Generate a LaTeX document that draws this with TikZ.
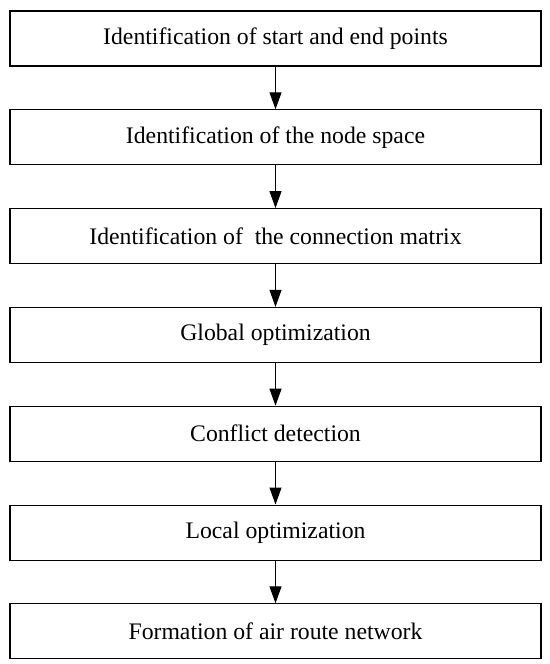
\documentclass[tikz,border=0pt]{standalone}
\usepackage{fontspec}
\setmainfont{Liberation Serif}
\usetikzlibrary{arrows.meta, positioning}

\tikzset{
    procbox/.style={draw, line width=0.6pt, minimum width=10.62cm, minimum height=1.1cm,
        inner sep=0pt, font=\fontsize{13.5}{16}\selectfont},
    flow/.style={line width=0.6pt, -{Triangle[length=0.34cm, width=0.24cm]}}
}

\begin{document}
\begin{tikzpicture}
        \useasboundingbox (0,0) rectangle (11,-13.28);

        % Steps of the procedure
        \node[procbox] (ends) at (5.51,-0.77) {Identification of start and end points};
        \node[procbox, below=0.855cm of ends] (space) {Identification of the node space};
        \node[procbox, below=0.855cm of space] (conmat) {Identification of\ \ the connection matrix};
        \node[procbox, below=0.855cm of conmat] (globopt) {Global optimization};
        \node[procbox, below=0.855cm of globopt] (conflict) {Conflict detection};
        \node[procbox, below=0.855cm of conflict] (locopt) {Local optimization};
        \node[procbox, below=0.855cm of locopt] (network) {Formation of air route network};

        % Arrows
        \draw[flow] (ends) -- (space);
        \draw[flow] (space) -- (conmat);
        \draw[flow] (conmat) -- (globopt);
        \draw[flow] (globopt) -- (conflict);
        \draw[flow] (conflict) -- (locopt);
        \draw[flow] (locopt) -- (network);
    \end{tikzpicture}
\end{document}
